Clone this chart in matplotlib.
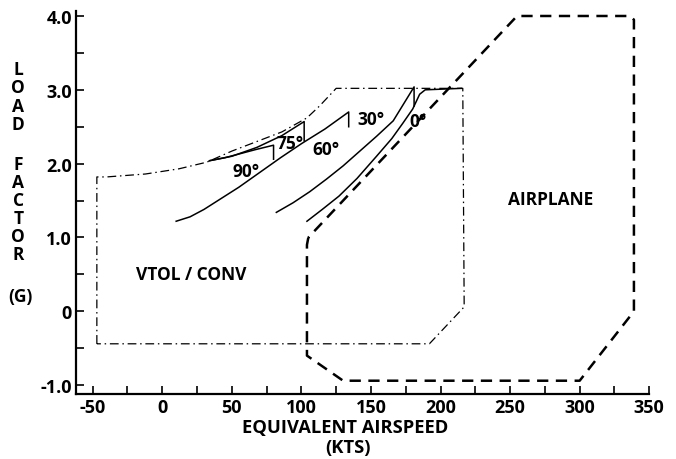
import matplotlib
matplotlib.use("Agg")
import matplotlib.pyplot as plt
from matplotlib.ticker import MultipleLocator

plt.rcParams['font.family'] = ['Open Sans', 'DejaVu Sans']
plt.rcParams['font.weight'] = 'bold'
plt.rcParams['axes.unicode_minus'] = False

# VTOL / conversion envelope (dash-dot)
vtol_kts = [-47, -47, -40, -12, 12, 32, 50, 86, 104, 113, 125, 216, 217, 192, -47]
vtol_g = [-0.44, 1.82, 1.82, 1.86, 1.93, 2.02, 2.17, 2.43, 2.62, 2.78, 3.02, 3.02, 0.06, -0.44, -0.44]

# airplane envelope (dashed)
plane_kts = [105, 104, 104, 130, 300, 339, 339, 336, 255, 105]
plane_g = [1.0, 0.9, -0.6, -0.94, -0.94, 0.0, 3.95, 4.0, 4.0, 1.0]

# conversion corridor lines, each ending in its bracket
c90_kts = [34, 45, 55, 67, 80, 80]
c90_g = [2.04, 2.08, 2.13, 2.19, 2.25, 2.06]
c75_kts = [34, 50, 68, 86, 102, 102]
c75_g = [2.04, 2.10, 2.22, 2.38, 2.57, 2.31]
c60_kts = [10, 20, 30, 40, 55, 70, 85, 100, 117, 134, 134]
c60_g = [1.22, 1.28, 1.38, 1.50, 1.68, 1.88, 2.08, 2.27, 2.47, 2.70, 2.50]
c30_kts = [82, 94, 106, 118, 130, 142, 154, 166, 181, 181]
c30_g = [1.34, 1.47, 1.62, 1.79, 1.97, 2.17, 2.37, 2.58, 3.04, 2.78]
c0_kts = [104, 115, 127, 140, 154, 165, 173, 180, 185, 189, 215]
c0_g = [1.22, 1.38, 1.56, 1.80, 2.10, 2.34, 2.55, 2.74, 2.94, 3.0, 3.02]

angle_labels = ['90°', '75°', '60°', '30°', '0°']
angle_kts = [60, 92, 118, 150, 184]
angle_g = [1.90, 2.28, 2.20, 2.60, 2.58]

x_ticks = [-50, 0, 50, 100, 150, 200, 250, 300, 350]
y_ticks = [-1.0, 0, 1.0, 2.0, 3.0, 4.0]
y_ticklabels = ['-1.0', '0', '1.0', '2.0', '3.0', '4.0']

fig = plt.figure(figsize=(6.76, 4.60), dpi=100)
ax = fig.add_axes([0.1124, 0.1413, 0.848, 0.833])

ax.plot(vtol_kts, vtol_g, color='black', lw=0.9, dashes=(7, 3, 1.2, 3))
ax.plot(plane_kts, plane_g, color='black', lw=1.8, dashes=(4.5, 3))
for k, g in [(c90_kts, c90_g), (c75_kts, c75_g), (c60_kts, c60_g),
             (c30_kts, c30_g), (c0_kts, c0_g)]:
    ax.plot(k, g, color='black', lw=1.1)

for lab, k, g in zip(angle_labels, angle_kts, angle_g):
    ax.text(k, g, lab, ha='center', va='center', fontsize=12.5, fontweight='bold')

ax.text(21, 0.51, 'VTOL / CONV', ha='center', va='center', fontsize=12.5, fontweight='bold')
ax.text(279, 1.52, 'AIRPLANE', ha='center', va='center', fontsize=12.5, fontweight='bold')

ax.set_xlim(-62, 350)
ax.set_ylim(-1.12, 4.07)
ax.set_xticks(x_ticks)
ax.set_xticklabels([str(v) for v in x_ticks])
ax.set_yticks(y_ticks)
ax.set_yticklabels(y_ticklabels)
ax.xaxis.set_minor_locator(MultipleLocator(25))
ax.yaxis.set_minor_locator(MultipleLocator(0.5))
ax.tick_params(which='both', direction='in', length=6, width=1.2, labelsize=13, pad=3)
for s in ['top', 'right']:
    ax.spines[s].set_visible(False)
for s in ['left', 'bottom']:
    ax.spines[s].set_linewidth(1.6)
for t in ax.get_xticklabels() + ax.get_yticklabels():
    t.set_fontweight('bold')

fig.text(0.51, 0.070, 'EQUIVALENT AIRSPEED', ha='center', va='center', fontsize=13.2, fontweight='bold')
fig.text(0.515, 0.026, '(KTS)', ha='center', va='center', fontsize=13.2, fontweight='bold')

# stacked y-axis title
for i, ch in enumerate('LOAD'):
    fig.text(0.027, 1 - (70 + i * 18.3) / 460, ch, ha='center', va='center', fontsize=12.5, fontweight='bold')
for i, ch in enumerate('FACTOR'):
    fig.text(0.027, 1 - (165 + i * 18.0) / 460, ch, ha='center', va='center', fontsize=12.5, fontweight='bold')
fig.text(0.03, 1 - 297 / 460, '(G)', ha='center', va='center', fontsize=12.5, fontweight='bold')

fig.savefig('out.png', dpi=100)
